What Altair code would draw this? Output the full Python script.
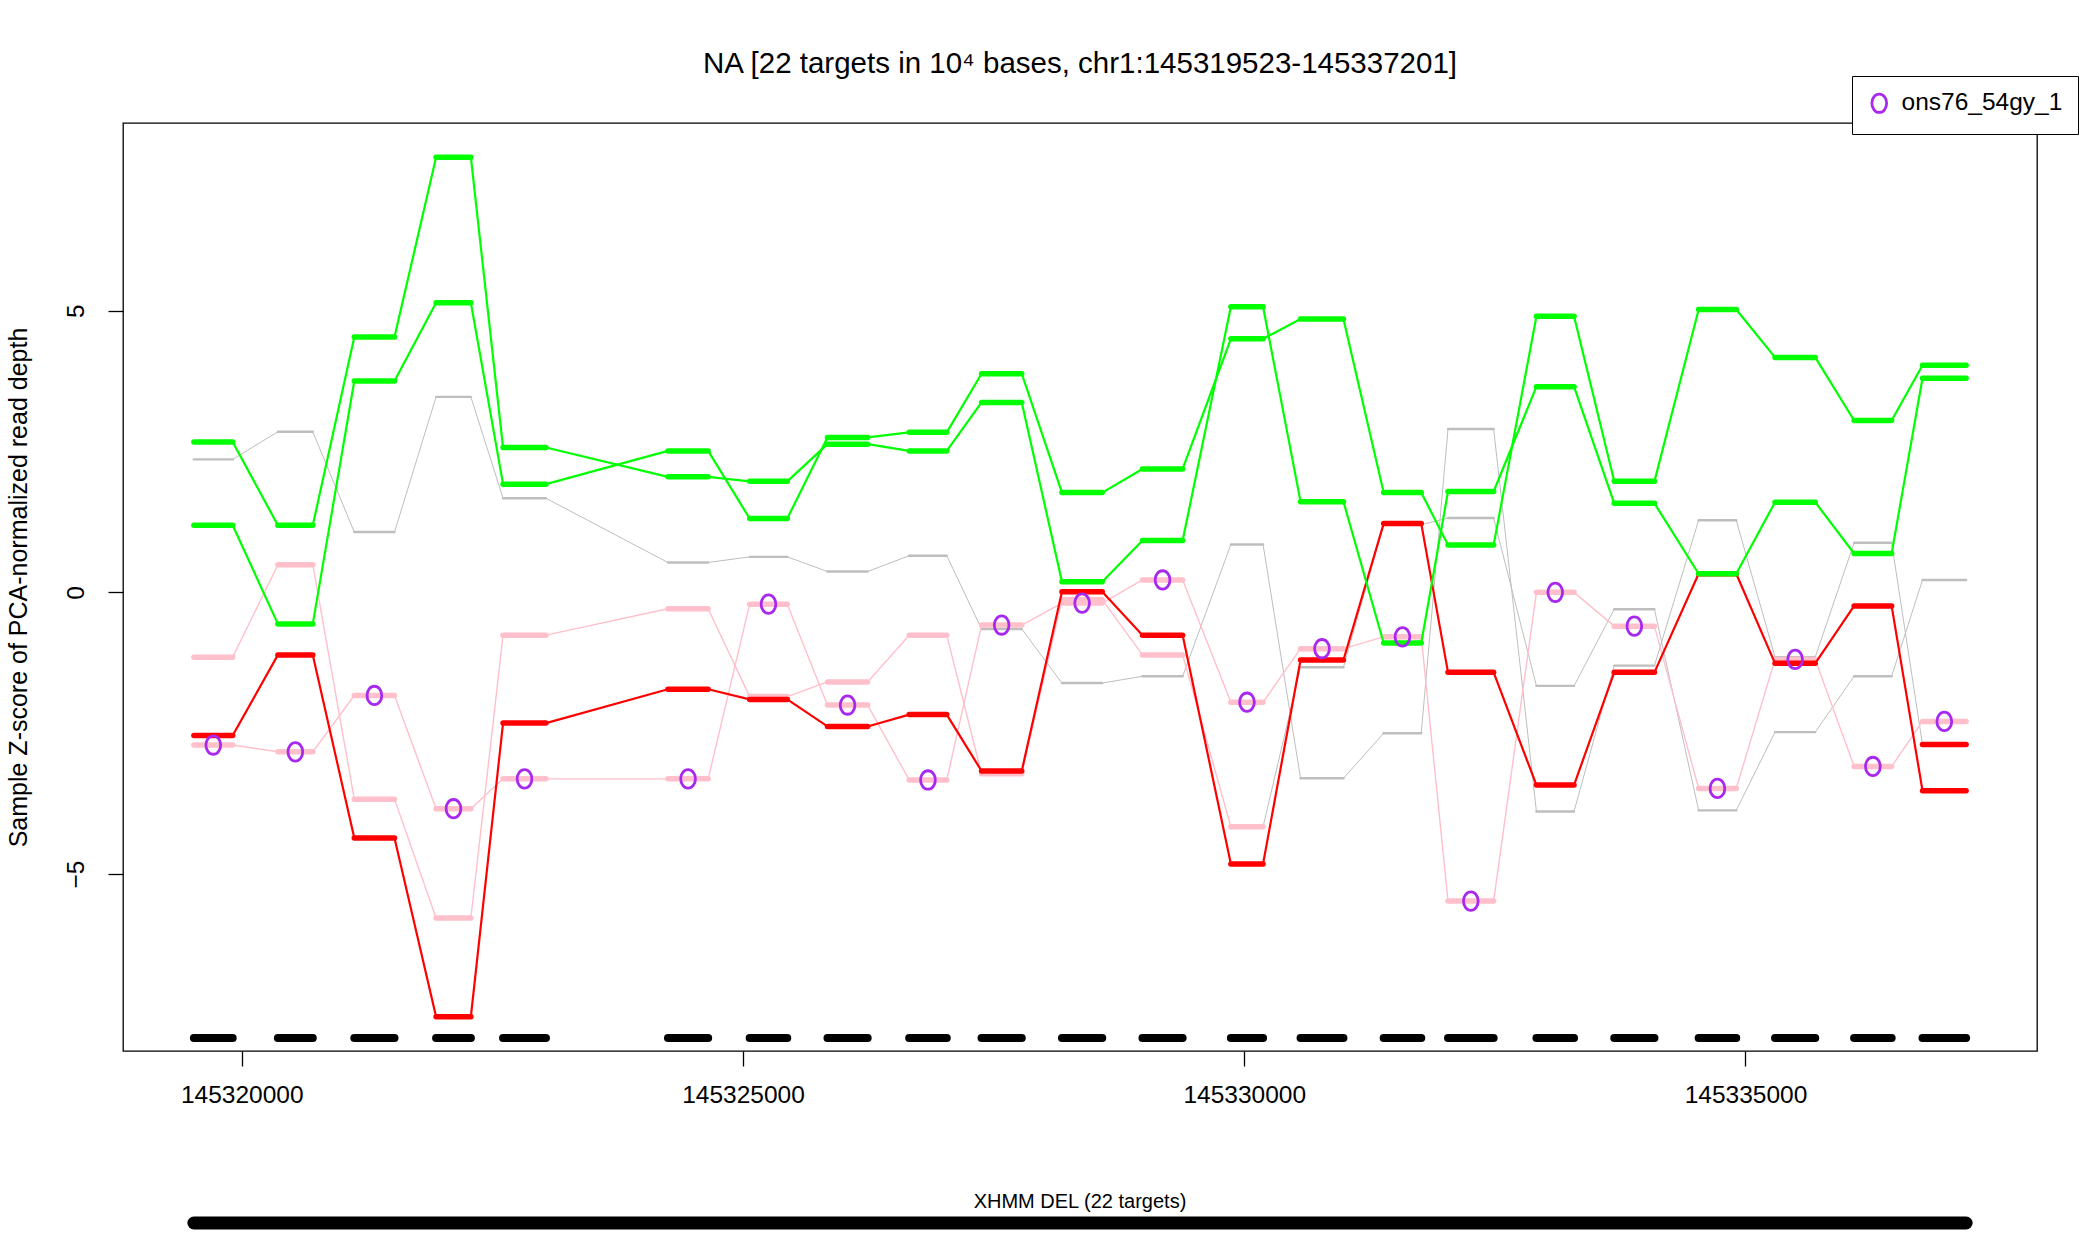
import altair as alt
import pandas as pd

# ---------------- data ----------------
chrom = "chr1"
cnv_start = 145319523
cnv_end = 145337201
cnv_label = "XHMM DEL (22 targets)"
sample_name = "ons76_54gy_1"

target_start = [145319523, 145320361, 145321123, 145321939, 145322607, 145324252,
                145325067, 145325843, 145326658, 145327380, 145328182, 145328985,
                145329867, 145330562, 145331391, 145332033, 145332915, 145333691,
                145334533, 145335295, 145336084, 145336766]
target_end = [145319910, 145320709, 145321524, 145322286, 145323035, 145324653,
              145325442, 145326244, 145327033, 145327781, 145328584, 145329386,
              145330188, 145330990, 145331766, 145332488, 145333290, 145334092,
              145334908, 145335696, 145336458, 145337201]

# Z-scores per sample per target
z_dup_a = [2.67, 1.19, 4.53, 7.72, 2.57, 2.05, 1.97, 2.63, 2.51, 3.37, 0.19,
           0.92, 5.07, 1.61, -0.90, 1.79, 3.65, 1.58, 0.33, 1.60, 0.69, 3.80]
z_dup_b = [1.19, -0.56, 3.75, 5.14, 1.92, 2.51, 1.31, 2.75, 2.84, 3.88, 1.77,
           2.19, 4.50, 4.85, 1.77, 0.84, 4.90, 1.97, 5.02, 4.17, 3.05, 4.03]
z_del = [-2.54, -1.11, -4.36, -7.53, -2.32, -1.72, -1.90, -2.38, -2.17, -3.17, 0.01,
         -0.76, -4.82, -1.20, 1.22, -1.42, -3.42, -1.42, 0.33, -1.26, -0.24, -3.52]
z_sample = [-2.71, -2.83, -1.83, -3.84, -3.31, -3.31, -0.21, -2.00, -3.33, -0.58, -0.19,
            0.22, -1.95, -1.00, -0.79, -5.48, 0.00, -0.60, -3.48, -1.19, -3.09, -2.29]
z_other_p = [-1.15, 0.49, -3.67, -5.78, -0.76, -0.29, -1.85, -1.59, -0.76, -3.22, -0.13,
             -1.11, -4.16, -1.33, 1.20, 1.32, -1.66, -0.30, -3.87, -2.48, -1.49, 0.22]
z_other_k = [2.36, 2.85, 1.07, 3.47, 1.67, 0.53, 0.63, 0.37, 0.65, -0.65, -1.61,
             -1.49, 0.85, -3.30, -2.50, 2.90, -3.89, -1.30, 1.28, -1.15, 0.88, -2.70]

# call status per target: U = DUP, D = DEL, L = weak DEL, N = no call
st_dup_a = "UUUUUUUUUUUUUUUUUUUUUU"
st_dup_b = "UUUUUUUUUUUUUUUUUUUUUU"
st_del = "DDDDDDDDDDDDDDDDDDDDDD"
st_sample = "LLLLLLLLLLLLLLLLLLLLLL"
st_other_p = "LLLLLLLLLLLLLNNNNNNNNN"
st_other_k = "NNNNNNNNNNNNNNNNNNNNND"

# ---------------- build tables ----------------
samples = [
    ("other_k", z_other_k, st_other_k),
    ("other_p", z_other_p, st_other_p),
    ("sample", z_sample, st_sample),
    ("del", z_del, st_del),
    ("dup_b", z_dup_b, st_dup_b),
    ("dup_a", z_dup_a, st_dup_a),
]
n = len(target_start)
seg_rows, line_rows = [], []
for name, vals, st in samples:
    for i in range(n):
        seg_rows.append(dict(sample=name, x=target_start[i], x2=target_end[i],
                             y=vals[i], y2=vals[i], st=st[i]))
        if i < n - 1:
            a, b = st[i], st[i + 1]
            lst = "N" if "N" in (a, b) else a
            line_rows.append(dict(sample=name, x=target_end[i], x2=target_start[i + 1],
                                  y=vals[i], y2=vals[i + 1], st=lst))
segs = pd.DataFrame(seg_rows)
lines = pd.DataFrame(line_rows)

targets = pd.DataFrame({"start": target_start, "end": target_end})
targets["mid"] = (targets["start"] + targets["end"]) / 2
pts = pd.DataFrame({"xc": targets["mid"], "z": z_sample, "who": sample_name})
region = pd.DataFrame({"start": [cnv_start], "end": [cnv_end],
                       "mid": [(cnv_start + cnv_end) / 2], "label": [cnv_label]})
title_text = f"NA [{n} targets in 10\u2074 bases, {chrom}:{cnv_start}-{cnv_end}]"
title_df = pd.DataFrame({"t": [title_text]})

# ---------------- scales & axes ----------------
all_x = target_start + target_end + [cnv_start, cnv_end]
xr = max(all_x) - min(all_x)
xdom = [min(all_x) - 0.04 * xr, max(all_x) + 0.04 * xr]
all_y = z_dup_a + z_dup_b + z_del + z_sample + z_other_p + z_other_k
yr = max(all_y) - min(all_y)
ydom = [min(all_y) - 0.04 * yr, max(all_y) + 0.04 * yr]

FONT = "Liberation Sans"
W, H = 1914, 928
xscale = alt.Scale(domain=xdom, nice=False, zero=False)
yscale = alt.Scale(domain=ydom, nice=False, zero=False)
xaxis = alt.Axis(values=[145320000, 145325000, 145330000, 145335000], format="d",
                 title=None, labelBaseline="middle", labelPadding=29,
                 labelFlush=False, labelOverlap=False)
yaxis = alt.Axis(values=[-5, 0, 5], title="Sample Z-score of PCA-normalized read depth",
                 labelAngle=270, labelAlign="center", labelBaseline="middle",
                 labelPadding=32, titleAngle=270, titleAlign="center",
                 titleBaseline="middle", titleX=-105, titleY=H / 2, titleFontSize=25)


def X(f):
    return alt.X(f, type="quantitative", scale=xscale, axis=xaxis)


def Y(f):
    return alt.Y(f, type="quantitative", scale=yscale, axis=yaxis)


colors = {"N": "#BEBEBE", "L": "#FFC0CB", "D": "#FF0000", "U": "#00FF00"}
seg_w = {"N": 2.4, "L": 5.5, "D": 5.5, "U": 5.5}
line_w = {"N": 1.0, "L": 1.4, "D": 2.2, "U": 2.2}

layers = []
for s in ["N", "L", "D", "U"]:
    dl = lines[lines["st"] == s]
    if len(dl):
        layers.append(alt.Chart(dl).mark_rule(color=colors[s], strokeWidth=line_w[s],
                                              strokeCap="round").encode(
            x=X("x"), x2="x2:Q", y=Y("y"), y2="y2:Q"))
    ds = segs[segs["st"] == s]
    if len(ds):
        layers.append(alt.Chart(ds).mark_rule(color=colors[s], strokeWidth=seg_w[s],
                                              strokeCap="round").encode(
            x=X("x"), x2="x2:Q", y=Y("y"), y2="y2:Q"))

# target track
layers.append(alt.Chart(targets).mark_rule(color="black", strokeWidth=8,
                                           strokeCap="round").encode(
    x=X("start"), x2="end:Q", y=alt.value(915)))

# sample markers "O"
opath = "M0,-1A0.8,1,0,1,1,0,1A0.8,1,0,1,1,0,-1Z"
OSIZE = 340
layers.append(alt.Chart(pts).mark_point(shape=opath, size=OSIZE, filled=False,
                                        strokeWidth=2.8, opacity=1).encode(
    x=X("xc"), y=Y("z"),
    color=alt.Color("who:N", scale=alt.Scale(domain=[sample_name], range=["#A828F0"]),
                    legend=alt.Legend(title=None, orient="none", legendX=1729, legendY=-47,
                                      labelFont=FONT, labelFontSize=24.5, labelColor="black",
                                      labelLimit=400,
                                      symbolType=opath, symbolSize=OSIZE,
                                      symbolStrokeWidth=2.8, strokeColor="black",
                                      fillColor="white", padding=15, labelOffset=10,
                                      cornerRadius=0))))

# CNV region bar and label below the axis
layers.append(alt.Chart(region).mark_rule(color="black", strokeWidth=13,
                                          strokeCap="round").encode(
    x=X("start"), x2="end:Q", y=alt.value(1100)))
layers.append(alt.Chart(region).mark_text(font=FONT, fontSize=20, color="black",
                                          baseline="middle").encode(
    x=X("mid"), y=alt.value(1079), text="label:N"))

# main title
layers.append(alt.Chart(title_df).mark_text(font=FONT, fontSize=29.5, color="black",
                                            baseline="middle", align="center").encode(
    x=alt.value(W / 2), y=alt.value(-59), text="t:N"))

chart = alt.layer(*layers).properties(
    width=W, height=H,
    autosize=alt.AutoSizeParams(type="none"),
    padding={"left": 123, "top": 123, "right": 63, "bottom": 186},
).configure_view(stroke="black", strokeWidth=1.3).configure_axis(
    labelFont=FONT, labelFontSize=24.5, labelColor="black", tickColor="black",
    tickWidth=1.3, tickSize=15, domain=False, grid=False, titleFont=FONT,
    titleFontWeight="normal", titleColor="black")

chart.save("out.html", embed_options={"renderer": "svg", "actions": False})
